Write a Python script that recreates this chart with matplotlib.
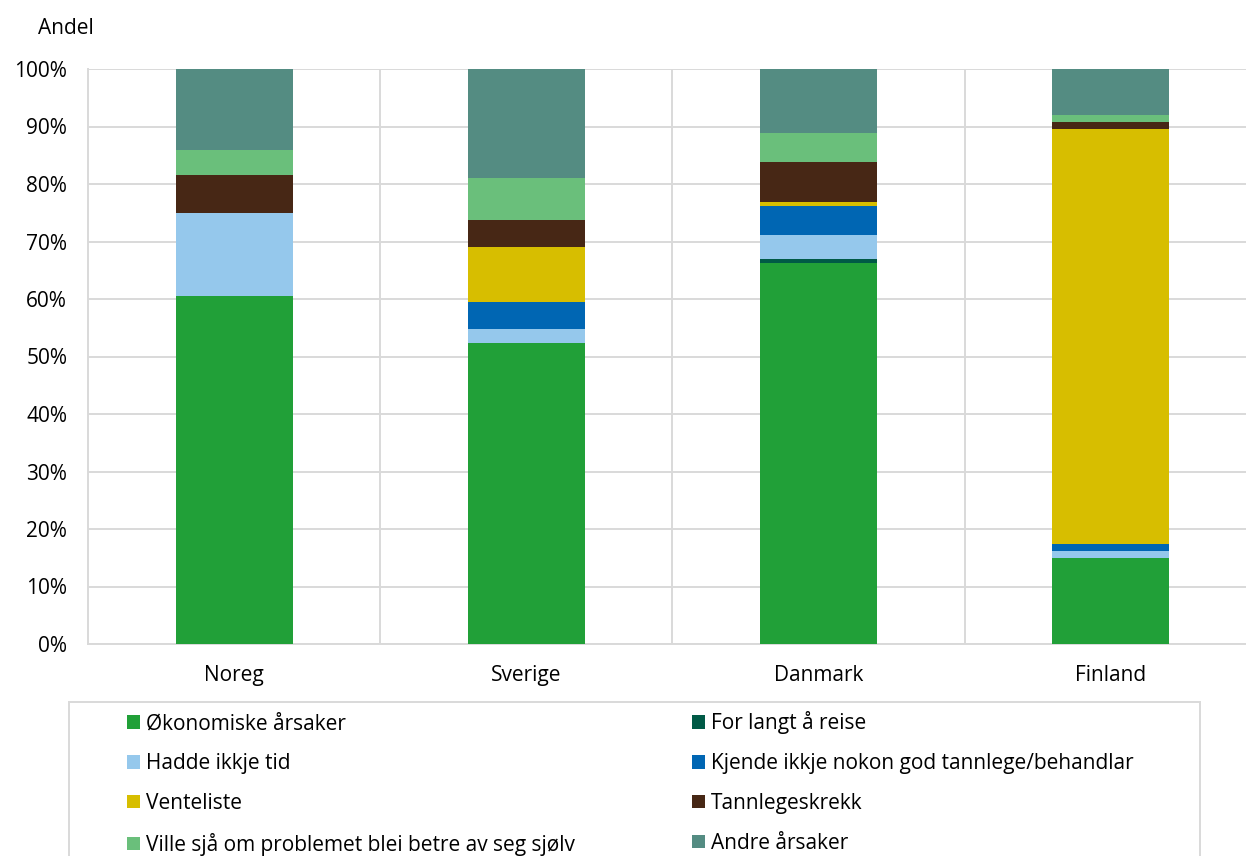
import matplotlib.pyplot as plt
from matplotlib.patches import Rectangle
import numpy as np

plt.rcParams['font.family'] = ['Open Sans', 'DejaVu Sans']
plt.rcParams['font.size'] = 15

# Data (andel i prosent)
land = ['Noreg', 'Sverige', 'Danmark', 'Finland']
serier = ['Økonomiske årsaker', 'For langt å reise', 'Hadde ikkje tid',
          'Kjende ikkje nokon god tannlege/behandlar', 'Venteliste',
          'Tannlegeskrekk', 'Ville sjå om problemet blei betre av seg sjølv',
          'Andre årsaker']
okonomiske = [60.5, 52.3, 66.2, 15.0]
for_langt = [0.0, 0.0, 0.7, 0.0]
ikkje_tid = [14.4, 2.5, 4.2, 1.2]
kjende_ikkje = [0.0, 4.7, 5.0, 1.2]
venteliste = [0.0, 9.6, 0.7, 72.2]
tannlegeskrekk = [6.6, 4.7, 7.1, 1.2]
ville_sja = [4.4, 7.2, 5.0, 1.2]
andre = [14.1, 19.0, 11.1, 8.0]

verdiar = [okonomiske, for_langt, ikkje_tid, kjende_ikkje, venteliste,
           tannlegeskrekk, ville_sja, andre]
fargar = ['#21A038', '#005A46', '#95C8EC', '#0066B3', '#D7BE00',
          '#472715', '#6ABF7B', '#548C82']

W, H = 1246, 856
fig = plt.figure(figsize=(W / 100, H / 100), dpi=100)
ax = fig.add_axes([88 / W, 1 - 644 / H, (1257 - 88) / W, (644 - 69) / H])

x = np.arange(len(land))
bunn = np.zeros(len(land))
handles = []
for namn, v, c in zip(serier, verdiar, fargar):
    b = ax.bar(x, v, bottom=bunn, width=0.4, color=c, label=namn, zorder=3)
    handles.append(b)
    bunn += np.array(v)

ax.set_xlim(-0.5, 3.5)
ax.set_ylim(0, 100)
ax.set_yticks(np.arange(0, 101, 10))
ax.set_yticklabels([f'{t}%' for t in range(0, 101, 10)])
ax.set_xticks(x)
ax.set_xticklabels(land)
ax.set_xticks([0.5, 1.5, 2.5], minor=True)

grid_farge = '#D9D9D9'
ax.grid(axis='y', which='major', color=grid_farge, linewidth=1.4, zorder=0)
ax.grid(axis='x', which='minor', color=grid_farge, linewidth=1.4, zorder=0)
ax.tick_params(axis='both', which='both', length=0)
ax.tick_params(axis='y', pad=15)
ax.tick_params(axis='x', pad=15)
for s in ['top', 'right']:
    ax.spines[s].set_visible(False)
for s in ['left', 'bottom']:
    ax.spines[s].set_color(grid_farge)
    ax.spines[s].set_linewidth(1.4)

fig.text(38 / W, 1 - 28 / H, 'Andel', ha='left', va='center')

# Forklaring (kolonnevis rekkjefølgje)
rekkje = [0, 2, 4, 6, 1, 3, 5, 7]
leg = fig.legend([handles[i] for i in rekkje], [serier[i] for i in rekkje],
                 ncol=2, loc='upper left',
                 bbox_to_anchor=(119 / W, 1 - 703 / H),
                 frameon=False, handlelength=0.62, handleheight=0.62,
                 handletextpad=0.3, labelspacing=0.9, columnspacing=5.6,
                 borderaxespad=0)
fig.add_artist(Rectangle((69 / W, -0.05), (1200 - 69) / W, 0.05 + (856 - 702) / H,
                         transform=fig.transFigure, fill=False,
                         edgecolor=grid_farge, linewidth=1.4))

fig.savefig('out.png', dpi=100)
